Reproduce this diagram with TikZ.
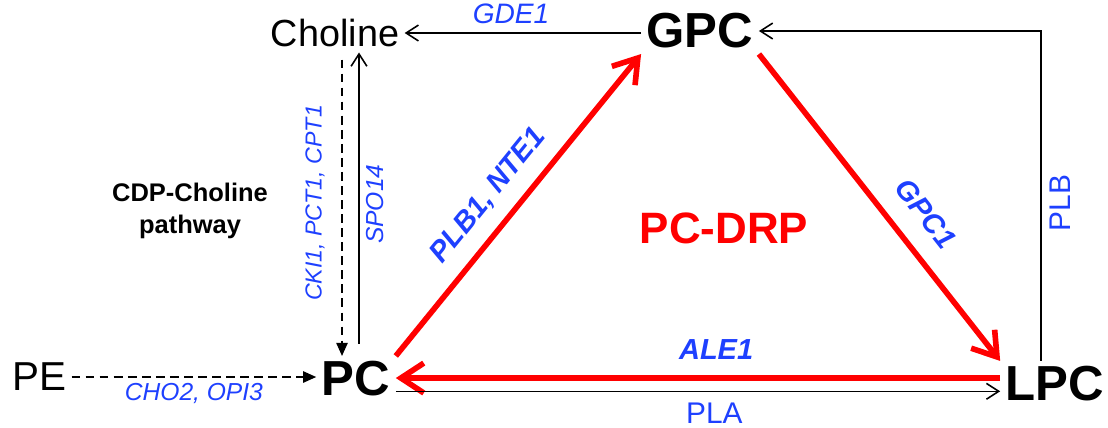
\documentclass[tikz,border=0pt]{standalone}
\usepackage{fontspec}
\setmainfont{Liberation Sans}
\usepackage{xcolor}
\usepackage{tikz}
\usetikzlibrary{arrows.meta}

\definecolor{enzblue}{RGB}{30,64,255}
\tikzset{
  met/.style={inner sep=3pt, font=\fontsize{28}{30}\selectfont\bfseries},
  enz/.style={text=enzblue, inner sep=2pt, font=\fontsize{14}{16}\selectfont\itshape},
  enzb/.style={text=enzblue, inner sep=2pt, font=\fontsize{16.5}{18}\selectfont\bfseries\itshape},
  enzr/.style={text=enzblue, inner sep=2pt, font=\fontsize{17}{19}\selectfont},
  thinarr/.style={line width=0.9pt, -{Straight Barb[length=7pt,width=9pt]}},
  redarr/.style={red, line width=3.2pt, -{Straight Barb[length=13pt,width=17pt]}},
  dasharr/.style={line width=0.9pt, dash pattern=on 5pt off 3pt, -{Triangle[length=7.5pt,width=6.5pt]}}
}

\begin{document}
\begin{tikzpicture}[x=0.02cm, y=-0.02cm]
\useasboundingbox (0,0) rectangle (1108,427);

% metaboliti
\node[met] (GPC) at (700,31) {GPC};
\node[met] (PC) at (356,379) {PC};
\node[met] (LPC) at (1055,384) {LPC};
\node[inner sep=3pt, font=\fontsize{21.5}{24}\selectfont] (cho) at (335,33) {Choline};
\node[inner sep=3pt, font=\fontsize{23}{25}\selectfont] (PE) at (39,377) {PE};

\coordinate (cdp) at (342,200);
\coordinate (spo) at (359,200);
\coordinate (plb) at (1041,200);

% ciclo PC-DRP
\draw[redarr] (PC.north east) -- (GPC.south west)
  node[pos=0.47, sloped, above=6pt, enzb] (plbnte) {PLB1, NTE1};
\draw[redarr] (GPC.south east) -- (LPC.north west)
  node[pos=0.585, sloped, above=9pt, enzb] (gpcone) {GPC1};
\draw[redarr] ([yshift=3.4pt]LPC.west) -- ([yshift=3.4pt]LPC.west -| PC.east)
  node[pos=0.47, above=6.8pt, enzb] (aleone) {ALE1};
\node[text=red, font=\fontsize{25}{27}\selectfont\bfseries] (drp) at (724,228) {PC-DRP};

% frecce nere
\draw[thinarr] (cho.east -| GPC.west) -- (cho.east)
  node[pos=0.55, above=3pt, enz, font=\fontsize{16}{18}\selectfont\itshape] (gde) {GDE1};
\draw[thinarr] (LPC.north -| plb) -- (plb |- GPC.east) -- (GPC.east);
\node[enzr, rotate=90] (plbl) at (1060,203) {PLB};
\draw[thinarr] ([yshift=-7pt]PC.east) -- ([yshift=-7pt]PC.east -| LPC.west)
  node[pos=0.527, below=4.3pt, enzr] (pla) {PLA};
\draw[thinarr, shorten <=7pt] (PC.north -| spo) -- (cho.south -| spo)
  node[midway, sloped, below=2pt, enz] (spol) {SPO14};

% via CDP-colina
\draw[dasharr, shorten <=4pt] (cho.south -| cdp) -- (PC.north -| cdp);
\node[enz, rotate=90, font=\fontsize{13.2}{15}\selectfont\itshape] (ckl) at (315,203) {CKI1, PCT1, CPT1};
\node[align=center, font=\fontsize{14.5}{18}\selectfont\bfseries] (cdpl) at (190,211) {CDP-Choline\\pathway};
\draw[dasharr] (PE.east) -- (PE.east -| PC.west)
  node[midway, below=1pt, enz] (chotwo) {CHO2, OPI3};

\end{tikzpicture}
\end{document}
